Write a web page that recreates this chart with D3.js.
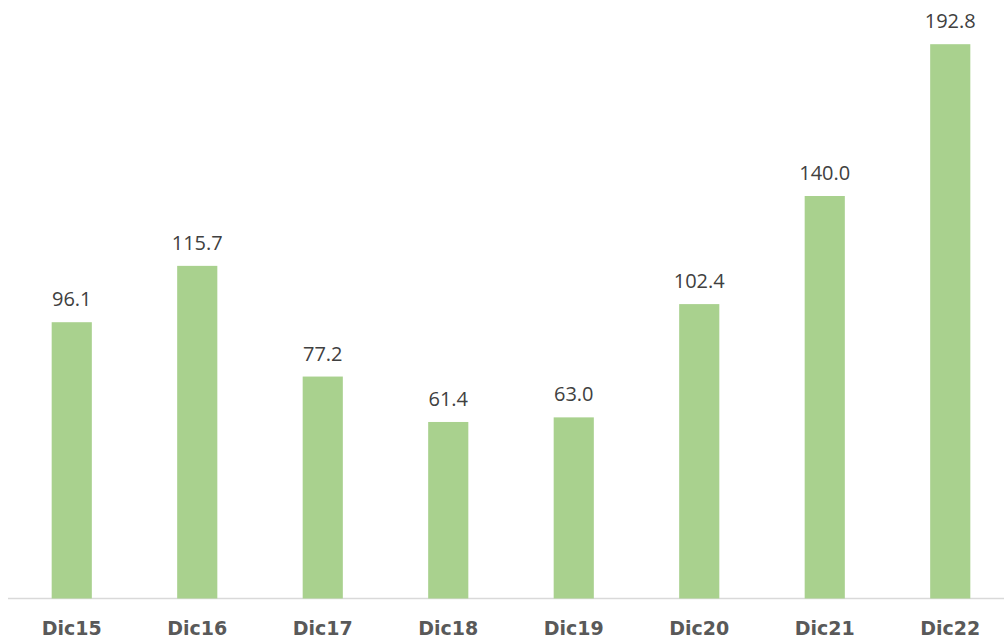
<!DOCTYPE html>
<meta charset="utf-8">
<style>
body, html {
  margin: 0;
  padding: 0;
  overflow: hidden;
  background: #fff;
}
.value {
  font-family: "Open Sans", "DejaVu Sans", sans-serif;
  font-size: 20px;
  fill: #404040;
}
.cat {
  font-family: "DejaVu Sans", sans-serif;
  font-weight: bold;
  font-size: 19px;
  fill: #595959;
}
</style>
<svg width="1004" height="641"></svg>
<script src="https://cdn.jsdelivr.net/npm/d3@7"></script>
<script>

var categories = ["Dic15", "Dic16", "Dic17", "Dic18", "Dic19", "Dic20", "Dic21", "Dic22"];
var values = [96.1, 115.7, 77.2, 61.4, 63.0, 102.4, 140.0, 192.8];

var svg = d3.select("svg");

var x = d3.scaleBand()
    .domain(categories)
    .range([9, 1013])
    .paddingInner(0.68)
    .paddingOuter(0.34);

var y = d3.scaleLinear()
    .domain([0, 200])
    .range([598.5, 23.5]);

// baseline
svg.append("line")
    .attr("x1", 8)
    .attr("x2", 1004)
    .attr("y1", y(0))
    .attr("y2", y(0))
    .attr("stroke", "#d9d9d9")
    .attr("stroke-width", 1.5);

svg.selectAll("rect.bar")
    .data(values)
  .enter().append("rect")
    .attr("class", "bar")
    .attr("x", function(d, i) { return x(categories[i]); })
    .attr("width", x.bandwidth())
    .attr("y", function(d) { return y(d); })
    .attr("height", function(d) { return y(0) - y(d); })
    .attr("fill", "#a9d18e");

svg.selectAll("text.value")
    .data(values)
  .enter().append("text")
    .attr("class", "value")
    .attr("x", function(d, i) { return x(categories[i]) + x.bandwidth() / 2; })
    .attr("y", function(d) { return y(d) - 16; })
    .attr("text-anchor", "middle")
    .text(function(d) { return d.toFixed(1); });

svg.selectAll("text.cat")
    .data(categories)
  .enter().append("text")
    .attr("class", "cat")
    .attr("x", function(d) { return x(d) + x.bandwidth() / 2; })
    .attr("y", 635)
    .attr("text-anchor", "middle")
    .text(function(d) { return d; });

</script>
